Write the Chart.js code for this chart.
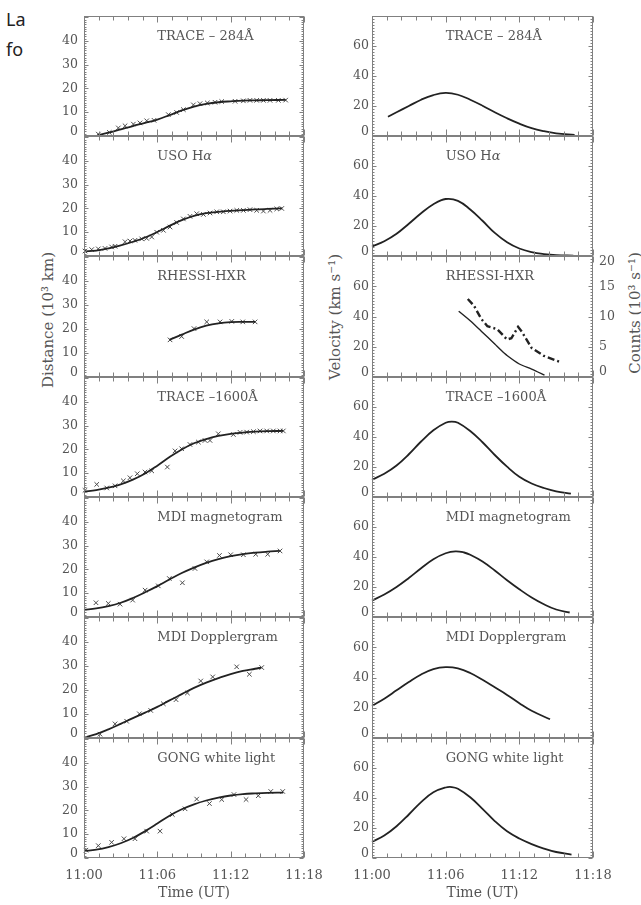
<!DOCTYPE html>
<html>
<head>
<meta charset="utf-8">
<script src="https://cdn.jsdelivr.net/npm/chart.js@4.4.1/dist/chart.umd.min.js"></script>
<style>
  body { margin: 0; width: 641px; height: 905px; position: relative; overflow: hidden; background: #fff; }
  canvas { position: absolute; }
  .side { position: absolute; left: 6px; font-family: "Noto Sans", sans-serif; font-size: 18px; color: #222; }
  .ytitle { position: absolute; font-family: "DejaVu Serif", serif; font-size: 15px; color: #555;
            white-space: nowrap; transform: translate(-50%, -50%) rotate(-90deg); }
</style>
</head>
<body>
<div class="side" style="top:7px">La</div>
<div class="side" style="top:37px">fo</div>
<div class="ytitle" style="left:48px; top:320px">Distance (10³ km)</div>
<div class="ytitle" style="left:335px; top:317px">Velocity (km s⁻¹)</div>
<div class="ytitle" style="left:635px; top:313px">Counts (10³ s⁻¹)</div>

<script>
// time is in minutes after 11:00 UT
const timeTicks = [0, 6, 12, 18];
const timeLabels = ['11:00', '11:06', '11:12', '11:18'];
const distTicks = [0, 10, 20, 30, 40];
const velTicks = [0, 20, 40, 60];
const countTicks = [0, 5, 10, 15, 20];

const panelLabels = ['TRACE – 284Å', 'USO Hα', 'RHESSI-HXR', 'TRACE –1600Å',
                     'MDI magnetogram', 'MDI Dopplergram', 'GONG white light'];

// distance (10^3 km): measured points and fitted curves
const trace284Points = [[1.17,0.8],[2.07,1.5],[2.81,3.4],[3.36,4.3],[4.04,5.0],[4.58,5.5],[5.13,6.4],[5.73,6.6],
  [6.9,9.0],[7.58,9.9],[8.13,11.1],[8.95,13.1],[9.49,13.6],[10.09,13.9],[10.72,14.2],[11.27,14.5],
  [12.36,14.6],[13.04,14.8],[13.58,15.0],[14.13,15.0],[14.68,15.0],[15.22,15.0],[15.9,15.0],[16.5,15.1]];
const trace284Fit = [[1.1,0.3],[2,1.4],[3,2.8],[4,4.2],[5,5.5],[6,6.9],[7,8.8],[8,10.8],[9,12.4],[10,13.5],
  [11,14.2],[12,14.6],[13,14.9],[14,15.0],[15,15.1],[16.5,15.2]];

const usoPoints = [[0.08,2.1],[0.63,2.7],[1.17,3.0],[1.72,3.2],[2.26,3.8],[2.54,4.1],[3.36,6.0],[3.76,6.3],
  [4.17,6.6],[4.72,7.2],[5.13,7.4],[5.54,8.0],[5.95,10.0],[6.5,10.8],[7.04,12.2],[7.58,14.1],[8.13,15.6],
  [8.67,16.7],[9.22,17.8],[9.77,17.5],[10.31,18.1],[10.86,18.6],[11.4,18.6],[11.95,18.9],[12.5,19.2],
  [13.04,19.2],[13.58,19.5],[14.13,19.2],[14.68,18.9],[15.22,19.2],[15.77,19.8],[16.18,20.0]];
const usoFit = [[0,1.9],[1,2.3],[2,3.2],[3,4.5],[4,6.0],[5,7.8],[6,10.1],[7,12.7],[8,15.1],[9,16.9],
  [10,18.0],[11,18.6],[12,19.0],[13,19.3],[14,19.6],[15,19.8],[16.2,20.0]];

const rhessiPoints = [[7.04,15.5],[7.99,16.9],[9.0,20.2],[10.04,23.0],[11.13,23.0],[12.09,23.2],[12.99,23.0],[14.0,23.0]];
const rhessiFit = [[7.0,15.5],[8,17.7],[9,19.8],[10,21.4],[11,22.4],[12,22.9],[13,23.0],[14,23.0]];

const trace1600Points = [[0.08,2.8],[1.04,5.3],[1.86,3.8],[2.54,4.7],[3.22,6.8],[3.76,8.1],[4.36,9.8],[4.99,10.5],
  [5.54,11.0],[6.82,12.6],[7.45,19.4],[7.99,20.3],[8.67,22.1],[9.36,23.1],[9.9,23.8],[10.31,23.8],[10.99,26.6],
  [12.22,26.3],[12.77,27.2],[13.31,27.3],[13.86,27.5],[14.4,27.8],[14.95,27.8],[15.49,27.8],[16.04,27.8],[16.31,27.8]];
const trace1600Fit = [[0,2.3],[1,2.9],[2,3.9],[3,5.3],[4,7.3],[5,9.9],[6,13.2],[7,16.8],[8,20.0],[9,22.6],
  [10,24.4],[11,25.7],[12,26.6],[13,27.1],[14,27.5],[15,27.7],[16.3,27.8]];

const mdiMagPoints = [[0.98,6.0],[1.99,5.7],[2.95,5.4],[3.98,7.1],[5.0,11.3],[6.08,13.1],[6.98,16.2],[8.05,14.4],
  [9.08,20.4],[10.04,23.2],[11.08,25.9],[12.0,26.2],[13.04,26.2],[14.05,26.4],[15.03,26.4],[16.04,27.8]];
const mdiMagFit = [[0,3.0],[1,3.6],[2,4.6],[3,6.0],[4,8.0],[5,10.4],[6,13.0],[7,15.8],[8,18.5],[9,20.8],
  [10,22.8],[11,24.4],[12,25.6],[13,26.5],[14,27.1],[15,27.5],[16.0,27.8]];

const mdiDopPoints = [[1.31,1.6],[2.54,5.9],[3.49,7.0],[4.53,10.1],[5.46,11.5],[6.49,14.3],[7.53,16.0],[8.46,18.8],
  [9.55,23.8],[10.53,25.5],[12.49,29.7],[13.53,26.6],[14.54,29.4]];
const mdiDopFit = [[0,0.2],[1,1.6],[2,3.6],[3,5.9],[4,8.3],[5,10.6],[6,13.0],[7,15.7],[8,18.3],[9,20.9],
  [10,23.1],[11,25.0],[12,26.7],[13,28.0],[14,28.9],[14.5,29.4]];

const gongPoints = [[0.16,3.3],[1.17,5.2],[2.26,6.6],[3.27,8.1],[4.17,8.1],[5.13,11.3],[6.22,11.3],[7.23,18.3],
  [8.27,20.7],[9.22,24.8],[10.26,22.9],[11.27,24.6],[12.27,26.7],[13.26,24.6],[14.26,26.2],[15.28,28.0],[16.26,28.0]];
const gongFit = [[0,2.9],[1,3.5],[2,4.6],[3,6.2],[4,8.4],[5,11.3],[6,14.5],[7,17.8],[8,20.5],[9,22.6],
  [10,24.2],[11,25.4],[12,26.3],[13,26.9],[14,27.2],[15,27.4],[16.3,27.5]];

// velocity (km/s) and RHESSI counts (10^3 /s)
const trace284Vel = [[1.3,12.8],[2,15.8],[3,20.0],[4,24.2],[5,27.3],[6,28.7],[7,27.5],[8,24.2],[9,20.2],
  [10,15.8],[11,11.8],[12,8.2],[13,5.2],[14,3.2],[15,1.8],[16.5,0.8]];
const usoVel = [[0,6.3],[1,9.8],[2,14.8],[3,21.5],[4,28.5],[5,34.5],[6,38.0],[7,36.8],[8,31.0],[9,23.5],
  [10,15.4],[11,9.2],[12,5.0],[13,2.6],[14,1.3],[15,0.6],[16.4,0.3]];
const rhessiVel = [[7.06,43.5],[8,37.2],[8.9,30.3],[10,21.8],[10.5,17.8],[11,14.2],[12,8.6],[13,5.2],[14.05,1.2]];
const rhessiCounts = [[7.8,12.9],[8.3,11.8],[8.9,9.6],[9.4,8.4],[10.2,7.9],[11.0,6.2],[11.35,6.4],[11.9,8.3],
  [12.2,7.5],[13.0,4.8],[14.0,3.5],[15.3,2.5]];
const trace1600Vel = [[0,11.5],[1,15.5],[2,21.0],[3,28.5],[4,37.0],[5,44.5],[6,49.5],[6.5,50.3],[7,49.5],
  [8,44.0],[9,36.5],[10,28.0],[11,20.2],[12,13.5],[13,9.0],[14,6.0],[15,3.8],[16.2,2.2]];
const mdiMagVel = [[0,11.0],[1,15.0],[2,20.0],[3,26.0],[4,32.5],[5,38.5],[6,42.5],[6.8,43.8],[7.5,43.0],
  [8,41.5],[9,37.0],[10,31.0],[11,24.5],[12,18.5],[13,13.0],[14,8.5],[15,5.0],[16.1,3.0]];
const mdiDopVel = [[0,21.3],[1,26.0],[2,31.5],[3,37.0],[4,42.0],[5,45.5],[6,46.8],[7,46.0],[8,43.0],
  [9,38.5],[10,33.5],[11,28.5],[12,23.0],[13,18.0],[14.5,12.4]];
const gongVel = [[0,10.8],[1,15.0],[2,21.2],[3,29.0],[4,37.3],[5,43.8],[6,47.0],[6.5,47.3],[7,46.2],
  [8,40.5],[9,32.8],[10,24.6],[11,17.8],[12,13.0],[13,9.3],[14,6.3],[15,4.0],[16.25,2.3]];

const distPanels = [[trace284Points, trace284Fit], [usoPoints, usoFit], [rhessiPoints, rhessiFit],
  [trace1600Points, trace1600Fit], [mdiMagPoints, mdiMagFit], [mdiDopPoints, mdiDopFit], [gongPoints, gongFit]];
const velPanels = [trace284Vel, usoVel, rhessiVel, trace1600Vel, mdiMagVel, mdiDopVel, gongVel];

const panelTops = [16, 136, 256, 377, 497, 617, 738, 858];

const INK = '#222';
const TEXT = '#555';
const FRAME = '#808080';
const FONT = '"DejaVu Serif", serif';

const xy = arr => arr.map(p => ({ x: p[0], y: p[1] }));

function drawLabel(ctx, text, x, y) {
  // greek letters in italic, as in the original figure
  let cx = x;
  for (const ch of text) {
    ctx.font = (ch === 'α' ? 'italic ' : '') + '13px ' + FONT;
    ctx.fillText(ch, cx, y);
    cx += ctx.measureText(ch).width;
  }
}

const framePlugin = {
  id: 'frame',
  afterDraw(chart, args, opts) {
    const { ctx, chartArea: a, scales } = chart;
    const xs = scales.x, ys = scales.y;
    const L = Math.round(a.left) + 0.5, R = Math.round(a.right) - 0.5;
    const T = Math.round(a.top) + 0.5, B = Math.round(a.bottom) - 0.5;
    ctx.save();
    ctx.strokeStyle = FRAME;
    ctx.lineWidth = 1;
    ctx.strokeRect(L, T, R - L, B - T);

    ctx.beginPath();
    // time ticks, 5 minor intervals per 6 minutes, top and bottom
    for (let k = 0; k <= 15; k++) {
      const px = Math.round(xs.getPixelForValue(k * 1.2)) + 0.5;
      const len = k % 5 === 0 ? 6 : 4;
      ctx.moveTo(px, B); ctx.lineTo(px, B - len);
      ctx.moveTo(px, T); ctx.lineTo(px, T + len);
    }
    // left axis ticks, mirrored on right unless a second axis is there
    for (let v = 0; v <= ys.max + 1e-6; v += opts.minor) {
      const py = Math.round(ys.getPixelForValue(v)) + 0.5;
      const major = Math.abs(v / opts.major - Math.round(v / opts.major)) < 1e-6;
      const len = major ? 4 : 2;
      ctx.moveTo(L, py); ctx.lineTo(L + len, py);
      if (!opts.counts) { ctx.moveTo(R, py); ctx.lineTo(R - len, py); }
    }
    if (opts.counts) {
      const y2 = scales.y2;
      for (let v = 0; v <= 20 + 1e-6; v += 0.5) {
        const py = Math.round(y2.getPixelForValue(v)) + 0.5;
        const len = v % 5 === 0 ? 4 : 2;
        ctx.moveTo(R, py); ctx.lineTo(R - len, py);
      }
    }
    ctx.stroke();

    ctx.fillStyle = TEXT;
    ctx.font = '12.5px ' + FONT;
    ctx.textBaseline = 'middle';
    ctx.textAlign = 'right';
    opts.ticks.forEach(v => {
      const py = ys.getPixelForValue(v) - (v === 0 ? 4.5 : 0);
      ctx.fillText(String(v), a.left - opts.gap, py);
    });
    if (opts.counts) {
      ctx.textAlign = 'left';
      countTicks.forEach(v => {
        let py = scales.y2.getPixelForValue(v);
        if (v === 0) py -= 5;
        if (v === 20) py += 5.5;
        ctx.fillText(String(v), a.right + 6, py);
      });
    }
    if (opts.time) {
      ctx.textAlign = 'center';
      ctx.font = '13px ' + FONT;
      timeTicks.forEach((v, i) => ctx.fillText(timeLabels[i], xs.getPixelForValue(v), a.bottom + 18));
      ctx.font = '14px ' + FONT;
      ctx.fillText('Time (UT)', (a.left + a.right) / 2, a.bottom + 35);
    }
    ctx.textAlign = 'left';
    drawLabel(ctx, opts.label, xs.getPixelForValue(6), a.top + 21);
    ctx.restore();
  }
};

function makePanel(col, i) {
  const top = panelTops[i], h = panelTops[i + 1] - top;
  const last = i === panelTops.length - 2;
  const cv = document.createElement('canvas');
  const left = col === 0 ? 0 : 320;
  const width = col === 0 ? 330 : 321;
  const height = h + 20 + (last ? 45 : 0);
  cv.width = width; cv.height = height;
  cv.style.left = left + 'px';
  cv.style.top = (top - 10) + 'px';
  document.body.appendChild(cv);

  const datasets = [];
  const scales = {
    x: { type: 'linear', min: 0, max: 18, display: false },
    y: { type: 'linear', min: 0, max: col === 0 ? 50.5 : 80, display: false }
  };
  let counts = false;
  if (col === 0) {
    const [pts, fit] = distPanels[i];
    datasets.push({ data: xy(fit), showLine: true, pointRadius: 0, borderColor: INK, borderWidth: 1.8,
                    tension: 0.4, clip: false });
    datasets.push({ data: xy(pts), showLine: false, pointStyle: 'crossRot', pointRadius: 3.2,
                    pointBorderColor: '#4a4a4a', pointBorderWidth: 1, clip: false });
  } else {
    datasets.push({ data: xy(velPanels[i]), showLine: true, pointRadius: 0, borderColor: INK,
                    borderWidth: i === 2 ? 1.4 : 1.8, tension: i === 2 ? 0.2 : 0.4, clip: false });
    if (i === 2) {
      counts = true;
      scales.y2 = { type: 'linear', min: 0, max: 20, display: false, position: 'right' };
      datasets.push({ data: xy(rhessiCounts), yAxisID: 'y2', showLine: true, pointRadius: 0, borderColor: INK,
                      borderWidth: 2.4, borderDash: [7, 3, 2, 3], tension: 0, clip: false });
    }
  }

  new Chart(cv, {
    type: 'scatter',
    data: { datasets },
    options: {
      responsive: false,
      animation: false,
      events: [],
      layout: { padding: col === 0
        ? { left: 84, right: 26, top: 10, bottom: last ? 55 : 10 }
        : { left: 52, right: 48, top: 10, bottom: last ? 55 : 10 } },
      plugins: {
        legend: { display: false },
        tooltip: { enabled: false },
        frame: {
          label: panelLabels[i],
          ticks: col === 0 ? distTicks : velTicks,
          minor: col === 0 ? 1 : 2,
          major: col === 0 ? 10 : 20,
          gap: col === 0 ? 6 : 3,
          counts: counts,
          time: last
        }
      },
      scales
    },
    plugins: [framePlugin]
  });
}

for (let i = 0; i < 7; i++) {
  makePanel(0, i);
  makePanel(1, i);
}
</script>
</body>
</html>
